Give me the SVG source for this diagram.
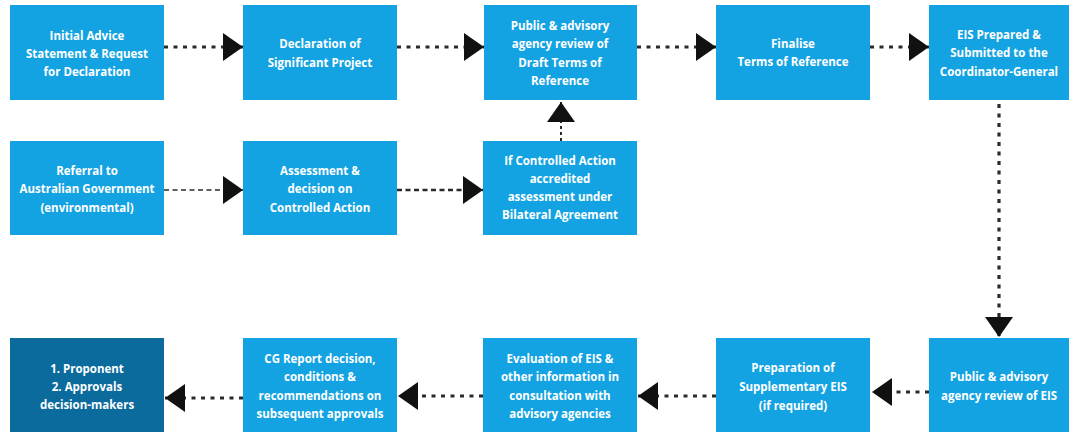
<svg xmlns="http://www.w3.org/2000/svg" width="1075" height="434" viewBox="0 0 1075 434">
<style>
.box{fill:#14A3E2}
.dark{fill:#0B6B9C}
text{font-family:"Open Sans","Liberation Sans",sans-serif;font-weight:bold;font-size:11.5px;fill:#ffffff;text-anchor:middle;dominant-baseline:central}
.dot{stroke:#2a2a2a;stroke-width:3.2;stroke-dasharray:4 5.5;fill:none}
.dash{stroke:#2a2a2a;stroke-width:1.6;stroke-dasharray:5 3.5;fill:none}
.dash2{stroke:#2a2a2a;stroke-width:2.6;stroke-dasharray:5 3.5;fill:none}
.dash3{stroke:#2a2a2a;stroke-width:2;stroke-dasharray:3 3;fill:none}
</style>
<defs>
<marker id="ah" markerUnits="userSpaceOnUse" markerWidth="20" markerHeight="28" refX="20" refY="14" orient="auto" viewBox="0 0 20 28">
<path d="M0,0 L20,14 L0,28 z" fill="#111111"/>
</marker>
</defs>
<rect width="1075" height="434" fill="#ffffff"/>
<g id="connectors">
<line class="dot" x1="164" y1="47" x2="243" y2="47" marker-end="url(#ah)"/>
<line class="dot" x1="397" y1="47" x2="484" y2="47" marker-end="url(#ah)"/>
<line class="dot" x1="637" y1="47" x2="716" y2="47" marker-end="url(#ah)"/>
<line class="dot" x1="870" y1="47" x2="929" y2="47" marker-end="url(#ah)"/>
<line class="dot" x1="999" y1="104" x2="999" y2="337" marker-end="url(#ah)"/>
<line class="dash" x1="164" y1="190" x2="243" y2="190" marker-end="url(#ah)"/>
<line class="dash2" x1="397" y1="190" x2="483" y2="190" marker-end="url(#ah)"/>
<line class="dash3" x1="561" y1="141" x2="561" y2="102" marker-end="url(#ah)"/>
<line class="dot" x1="929" y1="392" x2="872" y2="392" marker-end="url(#ah)"/>
<line class="dot" x1="716" y1="396" x2="638" y2="396" marker-end="url(#ah)"/>
<line class="dot" x1="483" y1="396" x2="398" y2="396" marker-end="url(#ah)"/>
<line class="dot" x1="243" y1="398" x2="165" y2="398" marker-end="url(#ah)"/>
</g>
<g id="n1">
<rect class="box" x="10" y="5" width="154" height="95"/>
<text x="87" y="35">Initial Advice</text>
<text x="87" y="53">Statement &amp; Request</text>
<text x="87" y="71">for Declaration</text>
</g>
<g id="n2">
<rect class="box" x="243" y="5" width="154" height="95"/>
<text x="320" y="43">Declaration of</text>
<text x="320" y="62">Significant Project</text>
</g>
<g id="n3">
<rect class="box" x="484" y="5" width="153" height="95"/>
<text x="560" y="25">Public &amp; advisory</text>
<text x="560" y="43.5">agency review of</text>
<text x="560" y="62">Draft Terms of</text>
<text x="560" y="80.5">Reference</text>
</g>
<g id="n4">
<rect class="box" x="716" y="5" width="154" height="95"/>
<text x="793" y="43">Finalise</text>
<text x="793" y="61">Terms of Reference</text>
</g>
<g id="n5">
<rect class="box" x="929" y="5" width="140" height="95"/>
<text x="999" y="34">EIS Prepared &amp;</text>
<text x="999" y="52">Submitted to the</text>
<text x="999" y="71">Coordinator-General</text>
</g>
<g id="n6">
<rect class="box" x="10" y="141" width="154" height="94"/>
<text x="87" y="170">Referral to</text>
<text x="87" y="188">Australian Government</text>
<text x="87" y="207">(environmental)</text>
</g>
<g id="n7">
<rect class="box" x="243" y="141" width="154" height="94"/>
<text x="320" y="170">Assessment &amp;</text>
<text x="320" y="188">decision on</text>
<text x="320" y="207">Controlled Action</text>
</g>
<g id="n8">
<rect class="box" x="483" y="141" width="154" height="94"/>
<text x="560" y="160">If Controlled Action</text>
<text x="560" y="178">accredited</text>
<text x="560" y="196">assessment under</text>
<text x="560" y="214">Bilateral Agreement</text>
</g>
<g id="n9">
<rect class="dark" x="10" y="338" width="154" height="94"/>
<text x="87" y="368">1. Proponent</text>
<text x="87" y="386">2. Approvals</text>
<text x="87" y="404">decision-makers</text>
</g>
<g id="n10">
<rect class="box" x="243" y="338" width="154" height="94"/>
<text x="320" y="358">CG Report decision,</text>
<text x="320" y="376">conditions &amp;</text>
<text x="320" y="395">recommendations on</text>
<text x="320" y="413">subsequent approvals</text>
</g>
<g id="n11">
<rect class="box" x="483" y="338" width="154" height="94"/>
<text x="560" y="358">Evaluation of EIS &amp;</text>
<text x="560" y="376">other information in</text>
<text x="560" y="395">consultation with</text>
<text x="560" y="413">advisory agencies</text>
</g>
<g id="n12">
<rect class="box" x="716" y="338" width="154" height="94"/>
<text x="793" y="367">Preparation of</text>
<text x="793" y="386">Supplementary EIS</text>
<text x="793" y="405">(if required)</text>
</g>
<g id="n13">
<rect class="box" x="929" y="338" width="140" height="94"/>
<text x="999" y="376">Public &amp; advisory</text>
<text x="999" y="395">agency review of EIS</text>
</g>
</svg>
